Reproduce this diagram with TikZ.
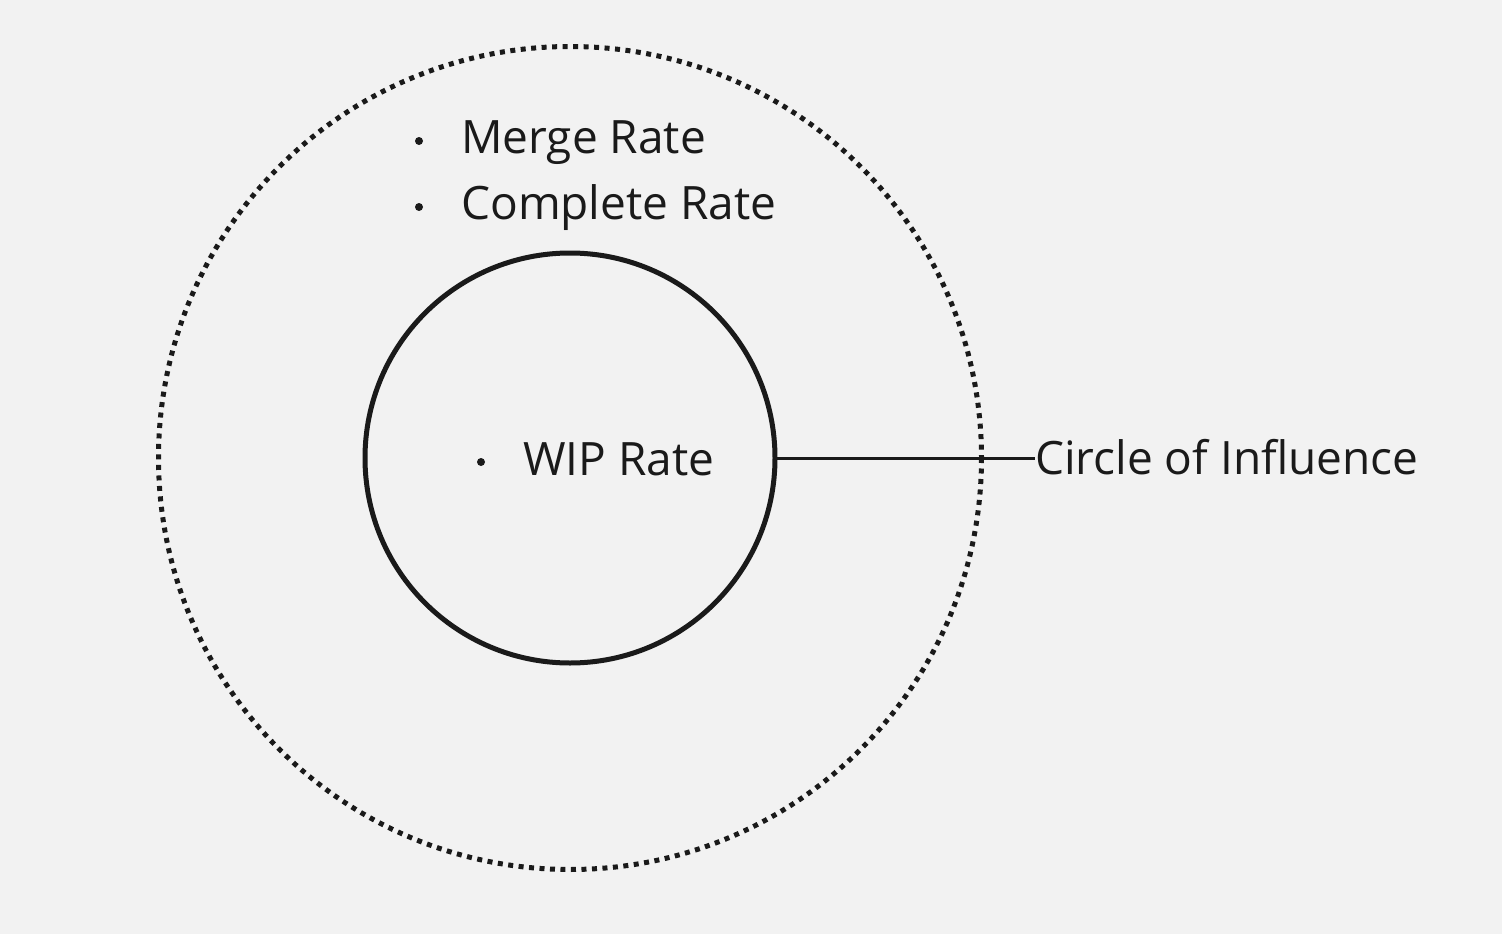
\documentclass[tikz,border=0pt]{standalone}
\usepackage{fontspec}
\setmainfont{Open Sans}
\definecolor{bg}{HTML}{F2F2F2}
\definecolor{ink}{HTML}{1A1A1A}
\begin{document}
\begin{tikzpicture}[x=1pt,y=-1pt,
  lbl/.style={inner sep=0pt,anchor=base west,font=\fontsize{46}{55}\selectfont,text=ink},
  bul/.style={circle,fill=ink,inner sep=0pt,minimum size=8pt}]
\fill[bg] (0,0) rectangle (1502,934);
\useasboundingbox (0,0) rectangle (1502,934);
\coordinate (c) at (570,458);
\draw[ink,line width=5pt,dash pattern=on 5pt off 5.5pt] (c) circle[radius=411.5];
\draw[ink,line width=5pt] (c) circle[radius=205];
\node[lbl] (merge) at (461,153.5) {Merge Rate};
\node[lbl] (complete) at (461,219.5) {Complete Rate};
\node[lbl] (wip) at (523,475) {WIP Rate};
\node[bul] (b1) at (419,141) {};
\node[bul] (b2) at (419,207) {};
\node[bul] (b3) at (481,462) {};
\node[lbl,anchor=west] (coi) at (1035,457) {Circle of Influence};
\coordinate (inR) at (777,458);
\draw[ink,line width=3pt] (inR) -- (coi.west |- inR);
\end{tikzpicture}
\end{document}
